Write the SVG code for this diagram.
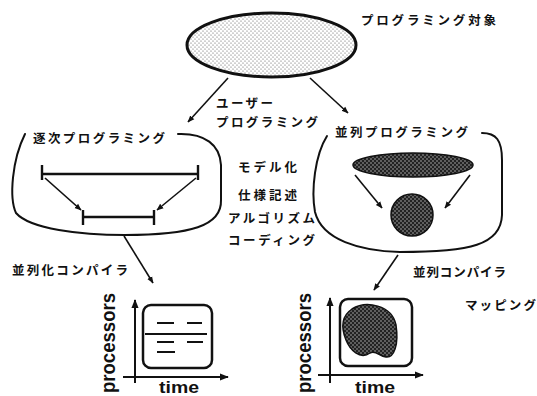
<svg xmlns="http://www.w3.org/2000/svg" width="537" height="396" viewBox="0 0 537 396">
<style>
.jp{font-family:"Noto Sans CJK JP","Noto Sans",sans-serif;font-weight:bold;font-size:12.5px;fill:#111}
.en{font-family:"Liberation Sans",Arial,sans-serif;font-weight:bold;fill:#111}
.ln{fill:none;stroke:#111;stroke-width:2;stroke-linecap:round;stroke-linejoin:round}
.ar{fill:none;stroke:#111;stroke-width:1.6;marker-end:url(#ah)}
</style>
<defs>
<marker id="ah" viewBox="0 0 10 10" refX="9" refY="5" markerWidth="7" markerHeight="7" markerUnits="userSpaceOnUse" orient="auto"><path d="M0,1 L10,5 L0,9 Z" fill="#111"/></marker>
<marker id="ah2" viewBox="0 0 10 10" refX="9" refY="5" markerWidth="9" markerHeight="9" markerUnits="userSpaceOnUse" orient="auto"><path d="M0,1 L10,5 L0,9 Z" fill="#111"/></marker>
<pattern id="light" width="4" height="4" patternUnits="userSpaceOnUse"><rect width="4" height="4" fill="#fff"/><circle cx="1" cy="1" r="0.6" fill="#555"/><circle cx="3" cy="3" r="0.6" fill="#555"/></pattern>
<pattern id="dark" width="4" height="4" patternUnits="userSpaceOnUse"><rect width="4" height="4" fill="#222"/><circle cx="1" cy="1" r="0.7" fill="#ccc"/><circle cx="3" cy="3" r="0.7" fill="#ccc"/></pattern>
</defs>
<rect width="537" height="396" fill="#fff"/>

<g id="target">
<ellipse cx="271.5" cy="45" rx="84.5" ry="32" fill="url(#light)" stroke="#111" stroke-width="3"/>
<text class="jp" x="361" y="25" textLength="135" lengthAdjust="spacing">プログラミング対象</text>
</g>

<g id="sequential">
<path class="ln" d="M25,134 C12,160 9,198 16,213 C30,229 80,235 125,235 C190,235 222,226 221,200 L221,165 C220,145 205,133 178,134"/>
<text class="jp" x="33" y="143" textLength="132" lengthAdjust="spacing">逐次プログラミング</text>
<g stroke="#111" stroke-width="2.4">
<line x1="42" y1="174" x2="198" y2="174"/>
<line x1="42" y1="165" x2="42" y2="180"/>
<line x1="198" y1="165" x2="198" y2="180"/>
<line x1="83" y1="217" x2="154" y2="217"/>
<line x1="83" y1="210" x2="83" y2="225"/>
<line x1="154" y1="210" x2="154" y2="225"/>
</g>
<line class="ar" x1="45" y1="178" x2="81" y2="210"/>
<line class="ar" x1="196" y1="178" x2="157" y2="210"/>
</g>

<g id="parallel">
<path class="ln" d="M327,136 C315,155 311,190 315,212 C322,240 360,251 400,252 C470,252 501,245 502,215 L502,160 C502,140 496,133 482,133"/>
<text class="jp" x="335" y="137" textLength="133" lengthAdjust="spacing">並列プログラミング</text>
<ellipse cx="413" cy="165" rx="60" ry="12" fill="url(#dark)" stroke="#111" stroke-width="1.5"/>
<circle cx="412" cy="215" r="21" fill="url(#dark)" stroke="#111" stroke-width="1.5"/>
<line class="ar" x1="355" y1="175" x2="382" y2="208"/>
<line class="ar" x1="470" y1="175" x2="445" y2="208"/>
</g>

<g id="labels">
<text class="jp" x="216" y="108" textLength="57" lengthAdjust="spacing">ユーザー</text>
<text class="jp" x="216" y="127" textLength="102" lengthAdjust="spacing">プログラミング</text>
<text class="jp" x="238" y="172" textLength="59" lengthAdjust="spacing">モデル化</text>
<text class="jp" x="238" y="200" textLength="59" lengthAdjust="spacing">仕様記述</text>
<text class="jp" x="228" y="223" textLength="87" lengthAdjust="spacing">アルゴリズム</text>
<text class="jp" x="228" y="245" textLength="87" lengthAdjust="spacing">コーディング</text>
<text class="jp" x="12" y="275" textLength="116" lengthAdjust="spacing">並列化コンパイラ</text>
<text class="jp" x="413" y="277" textLength="93" lengthAdjust="spacing">並列コンパイラ</text>
<text class="jp" x="465" y="310" textLength="71" lengthAdjust="spacing">マッピング</text>
</g>

<g id="chart-left">
<line x1="135" y1="383" x2="135" y2="300" stroke="#111" stroke-width="2" marker-end="url(#ah2)"/>
<line x1="123" y1="377" x2="228" y2="377" stroke="#111" stroke-width="2" marker-end="url(#ah2)"/>
<text class="en" font-size="20" transform="translate(115,343) rotate(-90)" text-anchor="middle" textLength="100" lengthAdjust="spacingAndGlyphs">processors</text>
<text class="en" font-size="17" x="159" y="393" textLength="40" lengthAdjust="spacingAndGlyphs">time</text>
<rect x="143" y="305" width="69" height="63" rx="8" fill="none" stroke="#111" stroke-width="2.5"/>
<g stroke="#111" stroke-width="2">
<line x1="157" y1="323" x2="174" y2="323"/>
<line x1="187" y1="323" x2="202" y2="323"/>
<line x1="145" y1="334" x2="207" y2="334"/>
<line x1="157" y1="342" x2="174" y2="342"/>
<line x1="187" y1="342" x2="203" y2="342"/>
<line x1="157" y1="352" x2="175" y2="352"/>
</g>
</g>

<g id="chart-right">
<line x1="330" y1="383" x2="330" y2="298" stroke="#111" stroke-width="2" marker-end="url(#ah2)"/>
<line x1="318" y1="375" x2="423" y2="375" stroke="#111" stroke-width="2" marker-end="url(#ah2)"/>
<text class="en" font-size="20" transform="translate(311,343) rotate(-90)" text-anchor="middle" textLength="100" lengthAdjust="spacingAndGlyphs">processors</text>
<text class="en" font-size="17" x="355" y="393" textLength="40" lengthAdjust="spacingAndGlyphs">time</text>
<rect x="340" y="299" width="72" height="67" rx="8" fill="none" stroke="#111" stroke-width="2.5"/>
<path d="M352,309 C366,300 392,305 396,325 C399,345 394,358 386,357 C379,356 376,350 370,353 C360,360 350,350 346,340 C340,325 343,315 352,309 Z" fill="url(#dark)" stroke="#111" stroke-width="1.5"/>
</g>

<g id="connectors">
<line class="ar" x1="228" y1="78" x2="188" y2="122"/>
<line class="ar" x1="310" y1="78" x2="348" y2="113"/>
<line class="ar" x1="124" y1="236" x2="153" y2="283"/>
<line class="ar" x1="398" y1="255" x2="374" y2="290"/>
</g>
</svg>
